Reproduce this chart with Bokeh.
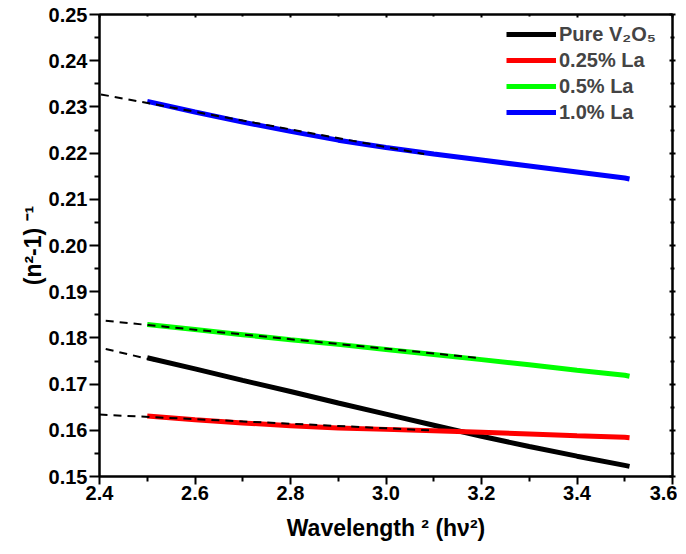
from bokeh.plotting import figure
from bokeh.models import FixedTicker, PrintfTickFormatter, LinearAxis, Legend, LegendItem, Range1d
from bokeh.embed import file_html
from bokeh.resources import INLINE

x = [2.5, 2.6, 2.7, 2.8, 2.9, 3.0, 3.1, 3.2, 3.3, 3.4, 3.5, 3.51]
pure = [0.1757, 0.1733, 0.1708, 0.1684, 0.1659, 0.1635, 0.1611, 0.1587, 0.1565, 0.1544, 0.1524, 0.1522]
la025 = [0.1631, 0.1623, 0.1616, 0.1610, 0.1605, 0.1602, 0.1599, 0.1596, 0.1592, 0.1588, 0.1585, 0.1584]
la05 = [0.1829, 0.1818, 0.1807, 0.1796, 0.1786, 0.1775, 0.1764, 0.1753, 0.1742, 0.1730, 0.1719, 0.1717]
la10 = [0.2312, 0.2289, 0.2267, 0.2247, 0.2228, 0.2212, 0.2198, 0.2185, 0.2172, 0.2159, 0.2146, 0.2144]

# linear fit (dashed) segments: x start/end, y start/end
fit_pure_x = [2.413, 2.52]
fit_pure_y = [0.1776, 0.1750]
fit_025_x = [2.40, 3.09]
fit_025_y = [0.1634, 0.1600]
fit_05_x = [2.413, 3.20]
fit_05_y = [0.1837, 0.1756]
fit_10_x = [2.403, 3.08]
fit_10_y = [0.2327, 0.2198]

labels = ["Pure V\u2082O\u2085", "0.25% La", "0.5% La", "1.0% La"]
colors = ["black", "#ff0000", "#00ff00", "#0000ff"]

x_ticks = [2.4, 2.6, 2.8, 3.0, 3.2, 3.4, 3.6]
x_minor = [2.5, 2.7, 2.9, 3.1, 3.3, 3.5]
y_ticks = [0.15, 0.16, 0.17, 0.18, 0.19, 0.20, 0.21, 0.22, 0.23, 0.24, 0.25]
y_minor = [0.155, 0.165, 0.175, 0.185, 0.195, 0.205, 0.215, 0.225, 0.235, 0.245]

FONT = "Liberation Sans"

p = figure(width=677, height=545, output_backend="svg", toolbar_location=None,
           x_range=Range1d(2.4, 3.6), y_range=Range1d(0.15, 0.25),
           min_border_left=99, min_border_right=5, min_border_top=14, min_border_bottom=69,
           frame_width=573, frame_height=462)
p.grid.visible = False
p.outline_line_color = "black"
p.outline_line_width = 2
p.background_fill_color = "white"

renderers = []
for ys, c in zip([pure, la025, la05, la10], colors):
    r = p.line(x, ys, line_color=c, line_width=5)
    renderers.append(r)

for fx, fy in [(fit_pure_x, fit_pure_y), (fit_025_x, fit_025_y), (fit_05_x, fit_05_y), (fit_10_x, fit_10_y)]:
    p.line(fx, fy, line_color="black", line_width=2, line_dash="8 6")

def style_axis(ax):
    ax.axis_line_width = 2
    ax.major_tick_line_width = 2
    ax.minor_tick_line_width = 2
    ax.major_label_text_font = FONT
    ax.major_label_text_font_style = "bold"
    ax.major_label_text_font_size = "20px"
    ax.major_label_text_color = "black"
    ax.axis_label_text_font = FONT
    ax.axis_label_text_font_style = "bold"
    ax.axis_label_text_font_size = "23px"
    ax.axis_label_text_color = "black"

xa = p.xaxis[0]
xa.ticker = FixedTicker(ticks=x_ticks, minor_ticks=x_minor)
xa.formatter = PrintfTickFormatter(format="%.1f")
style_axis(xa)
xa.major_tick_out = 8
xa.major_tick_in = 0
xa.minor_tick_out = 5
xa.minor_tick_in = 0
xa.major_label_standoff = 1
xa.axis_label = "Wavelength \u00b2 (h\u03bd\u00b2)"
xa.axis_label_standoff = 12

ya = p.yaxis[0]
ya.ticker = FixedTicker(ticks=y_ticks, minor_ticks=y_minor)
ya.formatter = PrintfTickFormatter(format="%.2f")
style_axis(ya)
ya.major_tick_out = 10
ya.major_tick_in = 0
ya.minor_tick_out = 5
ya.minor_tick_in = 0
ya.major_label_standoff = 2
ya.axis_label = "(n\u00b2-1) \u207b\u00b9"
ya.axis_label_standoff = 0

ra = LinearAxis(ticker=FixedTicker(ticks=y_ticks, minor_ticks=y_minor))
style_axis(ra)
ra.major_label_text_font_size = "0px"
ra.major_label_text_alpha = 0
ra.major_tick_in = 3
ra.major_tick_out = 3
ra.minor_tick_in = 2
ra.minor_tick_out = 2
p.add_layout(ra, "right")

ta = LinearAxis(ticker=FixedTicker(ticks=x_ticks, minor_ticks=x_minor))
style_axis(ta)
ta.major_label_text_font_size = "0px"
ta.major_label_text_alpha = 0
ta.major_tick_in = 3
ta.major_tick_out = 0
ta.minor_tick_in = 2
ta.minor_tick_out = 0
p.add_layout(ta, "above")

legend = Legend(items=[LegendItem(label=l, renderers=[r]) for l, r in zip(labels, renderers)],
                location=(405, 349))
legend.border_line_alpha = 0
legend.background_fill_alpha = 0
legend.label_text_font = FONT
legend.label_text_font_style = "bold"
legend.label_text_font_size = "20px"
legend.glyph_width = 50
legend.glyph_height = 26
legend.spacing = 0
legend.padding = 2
legend.margin = 0
legend.label_standoff = 3
legend.label_height = 26
p.add_layout(legend)

open("out.html", "w").write(file_html(p, INLINE))
